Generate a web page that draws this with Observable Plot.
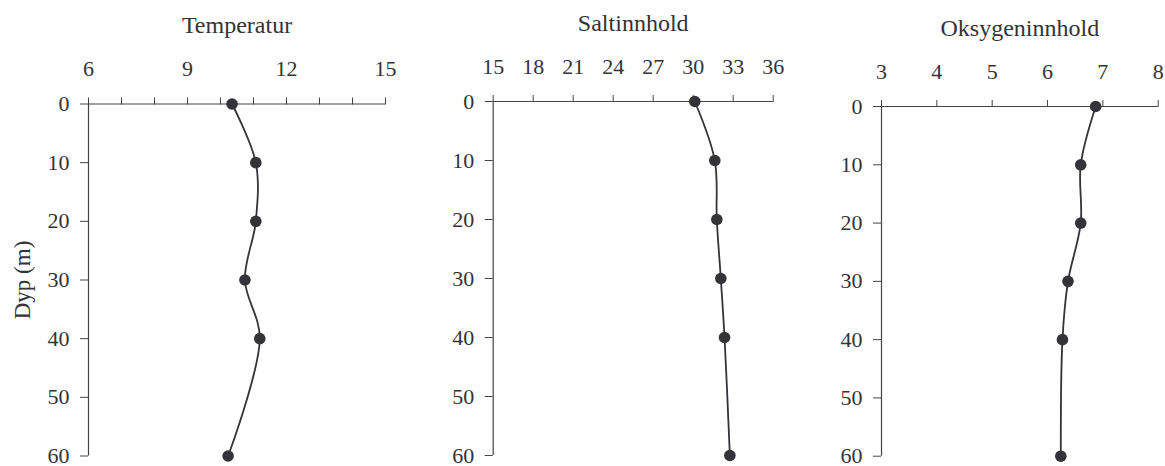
<!DOCTYPE html>
<html>
<head>
<meta charset="utf-8">
<script src="https://cdn.jsdelivr.net/npm/d3@7"></script>
<script src="https://cdn.jsdelivr.net/npm/@observablehq/plot@0.6"></script>
<style>
  html, body { margin: 0; padding: 0; background: #fff; }
  #chart { position: relative; width: 1165px; height: 466px; overflow: hidden; }
  #chart svg { position: absolute; top: 0; }
  #chart svg, #chart svg text, #chart svg g { font-family: 'Liberation Serif', 'Times New Roman', serif !important; font-variant: normal !important; }
</style>
</head>
<body>
<div id="chart"></div>
<script>
// Data
const depth = [0, 10, 20, 30, 40, 60];
const temperature = [10.35, 11.07, 11.07, 10.74, 11.19, 10.23];
const salinity = [30.12, 31.62, 31.77, 32.07, 32.35, 32.75];
const oxygen = [6.87, 6.6, 6.6, 6.37, 6.27, 6.24];

const titles = ["Temperatur", "Saltinnhold", "Oksygeninnhold"];
const depthTicks = [0, 10, 20, 30, 40, 50, 60];
const tempTicks = [6, 7, 8, 9, 10, 11, 12, 13, 14, 15];
const tempLabels = [6, 9, 12, 15];
const saltTicks = [15, 18, 21, 24, 27, 30, 33, 36];
const oxyTicks = [3, 4, 5, 6, 7, 8];
const yLabel = "Dyp (m)";

const ink = "#333338";
const font = "'Liberation Serif', 'Times New Roman', serif";

function panel({values, title, ticks, labels, domain, left, width, mL, mR, mT, mB, showYLabel}) {
  const data = depth.map((d, i) => ({depth: d, value: values[i]}));
  const marks = [
    Plot.ruleY([0], {stroke: "#444", strokeWidth: 1.2}),
    Plot.ruleX([domain[0]], {y1: 0, y2: 60, stroke: "#444", strokeWidth: 1.2}),
    Plot.axisX({anchor: "top", ticks, tickSize: 7, tickPadding: 21, stroke: "#444", label: null,
      tickFormat: d => labels.includes(d) ? String(d) : "", fill: ink, fontSize: 22, fontFamily: font}),
    Plot.axisY({anchor: "left", ticks: depthTicks, tickSize: 8, tickPadding: 11, stroke: "#444",
      fill: ink, fontSize: 22, fontFamily: font, label: null}),
    Plot.line(data, {x: "value", y: "depth", curve: "catmull-rom", stroke: ink, strokeWidth: 1.8}),
    Plot.dot(data, {x: "value", y: "depth", r: 5.8, fill: ink, stroke: "none"}),
    Plot.text([title], {frameAnchor: "top", dy: -71, text: d => d, fontSize: 24, fontFamily: font,
      fill: ink, lineAnchor: "bottom"})
  ];
  if (showYLabel) {
    marks.push(Plot.text([yLabel], {frameAnchor: "left", dx: -66, rotate: -90, text: d => d,
      textAnchor: "middle", fontSize: 23, fontFamily: font, fill: ink}));
  }
  const svg = Plot.plot({
    width, height: 466,
    marginLeft: mL, marginRight: mR, marginTop: mT, marginBottom: mB,
    style: {fontFamily: font, background: "transparent", overflow: "visible"},
    x: {domain, axis: null},
    y: {domain: [0, 60], reverse: true, axis: null},
    marks
  });
  svg.style.left = left + "px";
  document.getElementById("chart").appendChild(svg);
}

panel({values: temperature, title: titles[0], ticks: tempTicks, labels: tempLabels, domain: [6, 15],
  left: 0, width: 400, mL: 88, mR: 15, mT: 103.5, mB: 10.5, showYLabel: true});
panel({values: salinity, title: titles[1], ticks: saltTicks, labels: saltTicks, domain: [15, 36],
  left: 400, width: 390, mL: 92.7, mR: 17.3, mT: 101, mB: 11});
panel({values: oxygen, title: titles[2], ticks: oxyTicks, labels: oxyTicks, domain: [3, 8],
  left: 790, width: 375, mL: 91, mR: 7.3, mT: 106, mB: 10.3});
</script>
</body>
</html>
